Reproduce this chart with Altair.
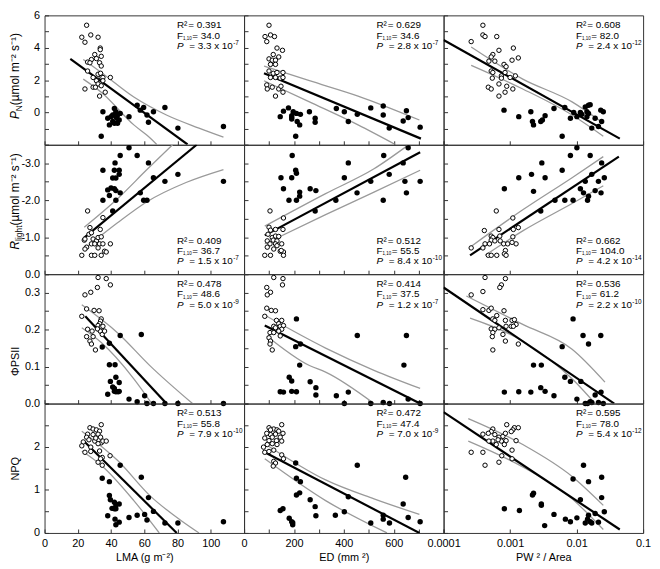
import json
import altair as alt
import pandas as pd

# ---------------- axis ticks / labels ----------------
LMA_TICKS = [0, 20, 40, 60, 80, 100, 120]
LMA_LABELS = [0, 20, 40, 60, 80, 100]
ED_TICKS = [0, 100, 200, 300, 400, 500, 600, 700, 800]
ED_LABELS = [0, 200, 400, 600]
PWA_TICKS = [0.0001, 0.001, 0.01, 0.1]
PWA_LABELS = [0.0001, 0.001, 0.01, 0.1]
PN_TICKS = [-2, -1, 0, 1, 2, 3, 4, 5, 6]
PN_LABELS = [0, 2, 4, 6]
RL_TICKS = [-3.5, -3.0, -2.5, -2.0, -1.5, -1.0, -0.5, 0.0]
RL_LABELS = [-3.0, -2.0, -1.0, 0.0]
PHI_TICKS = [0, 0.05, 0.1, 0.15, 0.2, 0.25, 0.3, 0.35]
PHI_LABELS = [0, 0.1, 0.2, 0.3]
NPQ_TICKS = [0, 0.5, 1, 1.5, 2, 2.5, 3]
NPQ_LABELS = [0, 1, 2]

# ---------------- row 1: P_N ----------------
PN_LMA_OPEN = [(25.3,5.39),(22.4,4.65),(24.3,4.34),(27.8,4.79),(32.2,4.65),(33.5,3.98),(33.5,3.88),(25.9,3.11),(28.2,3.27),(31.2,3.33),(34.1,3.47),(30.2,3.58),(27.3,3.07),(33.1,3.07),(34.1,2.87),(25.9,2.56),(29.2,2.16),(32.2,2.36),(33.7,2.42),(34.1,2.16),(31.2,1.96),(35.1,2.16),(39.6,2.16),(29.2,1.56),(24.3,1.45),(32.2,1.76),(34.1,1.65),(30.6,1.56),(33.1,1.01),(36.5,1.25),(35.1,1.96)]
PN_LMA_FILLED = [(35.1,0.04),(34.1,-1.47),(38.0,-0.36),(40.0,-0.26),(42.0,0.24),(42.9,0.04),(43.5,-0.36),(41.0,-0.56),(39.0,-0.77),(42.0,-0.67),(43.9,-0.16),(44.9,-0.47),(43.9,-0.67),(45.5,-0.06),(42.9,-0.26),(50.8,-0.26),(55.7,0.44),(57.6,0.14),(59.6,0.30),(61.6,-0.16),(62.5,-0.61),(65.5,0.04),(72.4,0.30),(80.2,-0.97),(107.6,-0.87),(41.0,-0.16),(42.4,-0.12)]
PN_LMA_LINE = [(15.5,3.31),(86.0,-1.98)]
PN_LMA_UPPER = [(23.3,3.27),(34.1,2.47),(53.7,0.95),(73.3,-0.16),(92.9,-0.97),(107.6,-1.53)]
PN_LMA_LOWER = [(23.3,2.06),(34.1,1.25),(53.7,-0.77),(63.5,-1.58),(67.5,-1.98)]
PN_LMA_STATS = ("0.391", "34.0", "3.3", "-7")

PN_ED_OPEN = [(100,5.39),(84,4.69),(106,4.79),(122,4.69),(91,4.38),(132,3.98),(154,3.84),(117,3.58),(139,3.43),(100,3.31),(113,3.23),(126,3.23),(106,2.97),(126,2.97),(100,2.56),(117,2.42),(132,2.47),(156,2.47),(106,2.16),(126,2.16),(145,2.12),(156,2.16),(91,1.70),(113,1.56),(93,1.45),(139,1.45),(148,1.62),(126,1.01),(156,1.25)]
PN_ED_FILLED = [(145,-0.26),(158,0.08),(178,0.28),(191,-0.20),(191,-0.41),(197,0.04),(210,-0.06),(226,-0.12),(213,-0.56),(223,-0.77),(207,-1.47),(262,0.04),(285,-0.36),(285,-0.61),(370,0.24),(402,0.04),(418,-0.56),(454,-0.12),(508,0.28),(558,0.40),(558,-0.16),(582,-0.97),(638,-0.53),(651,0.10),(658,-0.32),(706,-0.91),(191,-0.32)]
PN_ED_LINE = [(80,2.42),(709,-1.62)]
PN_ED_UPPER = [(80,2.87),(262,1.96),(457,1.01),(703,-0.47)]
PN_ED_LOWER = [(80,1.96),(262,0.65),(457,-0.77),(606,-1.98)]
PN_ED_STATS = ("0.629", "34.6", "2.8", "-7")

PN_PWA_OPEN = [(0.00039,5.39),(0.00039,4.79),(0.00042,4.69),(0.00063,4.69),(0.00026,4.38),(0.00068,3.84),(0.00112,3.98),(0.00055,3.58),(0.00052,3.43),(0.00059,3.17),(0.00048,3.17),(0.00133,3.37),(0.00107,3.23),(0.00081,2.97),(0.00087,2.83),(0.00052,2.56),(0.00055,2.47),(0.00084,2.47),(0.00074,2.26),(0.0012,2.26),(0.001,2.16),(0.00054,2.12),(0.00074,2.12),(0.00047,1.56),(0.00052,1.45),(0.00068,1.76),(0.00089,1.62),(0.0011,1.45),(0.00084,1.25),(0.00068,1.01)]
PN_PWA_FILLED = [(0.00081,0.14),(0.00135,-0.26),(0.00205,0.04),(0.00217,-0.56),(0.00225,-0.77),(0.00289,-0.56),(0.00306,-0.47),(0.00336,-0.20),(0.00457,0.24),(0.00607,-1.47),(0.00665,0.30),(0.00807,-0.36),(0.00905,0.0),(0.0101,-0.26),(0.0114,0.0),(0.012,-0.12),(0.0135,0.34),(0.0143,-0.26),(0.0151,0.44),(0.016,0.48),(0.0151,-0.06),(0.019,-0.36),(0.0169,-0.97),(0.0213,-0.87),(0.0238,-0.56),(0.0231,0.14),(0.0252,0.04),(0.0143,0.04)]
PN_PWA_LINE = [(0.0001,4.48),(0.0446,-1.62)]
PN_PWA_UPPER = [(0.00026,4.04),(0.00155,2.06),(0.00855,0.65),(0.0252,-0.67)]
PN_PWA_LOWER = [(0.00026,2.91),(0.00155,1.45),(0.00855,-0.16),(0.0252,-1.47)]
PN_PWA_STATS = ("0.608", "82.0", "2.4", "-12")

# ---------------- row 2: R_light ----------------
RL_LMA_OPEN = [(25.9,-1.71),(27.3,-1.26),(35.1,-1.53),(33.5,-1.21),(23.9,-0.92),(25.3,-0.73),(28.2,-0.82),(29.2,-0.95),(31.2,-0.90),(32.2,-0.99),(34.1,-1.01),(30.2,-0.82),(33.1,-0.82),(35.1,-0.82),(32.2,-0.71),(24.3,-0.68),(39.6,-0.82),(28.2,-0.51),(30.2,-0.51),(34.1,-0.51),(36.1,-0.62),(37.1,-0.60),(22.4,-0.51),(26.7,-1.08),(28.2,-1.12),(24.3,-0.95)]
RL_LMA_FILLED = [(50.8,-3.42),(45.5,-3.21),(55.7,-3.21),(42.4,-3.01),(62.5,-3.01),(35.1,-2.81),(42.0,-2.81),(44.9,-2.81),(41.0,-2.60),(42.9,-2.60),(44.9,-2.70),(38.0,-2.28),(40.0,-2.33),(42.0,-2.31),(42.9,-2.26),(39.0,-2.13),(45.5,-2.20),(35.1,-2.0),(42.9,-2.0),(57.6,-2.20),(59.6,-2.0),(61.6,-2.0),(65.5,-2.61),(72.4,-2.51),(80.2,-2.70),(107.6,-2.51),(41.0,-1.71)]
RL_LMA_LINE = [(23.9,-0.99),(91.5,-3.5)]
RL_LMA_UPPER = [(23.9,-1.27),(43.9,-2.04),(61.6,-2.83),(77.0,-3.5)]
RL_LMA_LOWER = [(23.9,-0.68),(43.9,-1.39),(61.6,-1.96),(85.1,-2.48),(107.6,-2.83)]
RL_LMA_STATS = ("0.409", "36.7", "1.5", "-7")

RL_ED_OPEN = [(104,-1.71),(158,-1.52),(100,-1.27),(106,-1.19),(126,-1.21),(156,-1.21),(96,-1.08),(113,-0.99),(126,-1.03),(139,-1.02),(93,-0.90),(117,-0.92),(132,-0.90),(104,-0.82),(126,-0.82),(151,-0.82),(93,-0.73),(119,-0.68),(145,-0.62),(158,-0.60),(83,-0.51),(106,-0.51),(158,-0.51),(149,-0.64),(132,-0.77)]
RL_ED_FILLED = [(658,-3.42),(193,-3.21),(560,-3.21),(418,-3.01),(207,-2.81),(638,-3.01),(148,-2.61),(191,-2.61),(210,-2.73),(402,-2.61),(582,-2.70),(508,-2.51),(645,-2.51),(706,-2.51),(158,-2.31),(223,-2.22),(265,-2.31),(288,-2.26),(223,-2.11),(180,-2.0),(210,-2.0),(453,-2.20),(368,-2.0),(558,-2.0),(651,-2.20),(285,-1.71)]
RL_ED_LINE = [(83,-1.05),(706,-3.30)]
RL_ED_UPPER = [(83,-1.30),(327,-2.18),(521,-2.85),(658,-3.49)]
RL_ED_LOWER = [(83,-0.82),(327,-1.61),(521,-2.22),(706,-2.81)]
RL_ED_STATS = ("0.512", "55.5", "8.4", "-10")

RL_PWA_OPEN = [(0.00062,-1.71),(0.0011,-1.52),(0.00068,-1.21),(0.00041,-1.18),(0.00133,-1.26),(0.00112,-1.21),(0.00052,-1.03),(0.00055,-0.99),(0.0007,-1.03),(0.00042,-0.82),(0.00052,-0.92),(0.00059,-0.90),(0.00071,-0.90),(0.0011,-1.01),(0.0008,-0.82),(0.00092,-0.82),(0.00123,-0.82),(0.00107,-0.86),(0.00026,-0.71),(0.00039,-0.71),(0.00085,-0.64),(0.00047,-0.51),(0.00052,-0.51),(0.00063,-0.51),(0.00082,-0.55),(0.00087,-0.51),(0.00049,-0.82)]
RL_PWA_FILLED = [(0.0101,-3.42),(0.00807,-3.21),(0.016,-3.21),(0.003,-3.01),(0.0238,-3.01),(0.00607,-2.81),(0.0021,-2.70),(0.00135,-2.61),(0.00336,-2.61),(0.0169,-2.70),(0.0135,-2.51),(0.0213,-2.51),(0.0261,-2.61),(0.00082,-2.31),(0.00225,-2.24),(0.0114,-2.31),(0.0127,-2.20),(0.019,-2.26),(0.0233,-2.20),(0.0151,-2.11),(0.0146,-2.0),(0.00473,-2.0),(0.00665,-2.0),(0.00885,-2.0),(0.00289,-1.71)]
RL_PWA_LINE = [(0.00025,-0.51),(0.0432,-3.18)]
RL_PWA_UPPER = [(0.00025,-0.73),(0.00155,-1.74),(0.00855,-2.61),(0.0252,-3.18)]
RL_PWA_LOWER = [(0.00042,-0.51),(0.00155,-1.17),(0.00855,-1.91),(0.0252,-2.39)]
RL_PWA_STATS = ("0.662", "104.0", "4.2", "-14")

# ---------------- row 3: PhiPSII ----------------
PHI_LMA_OPEN = [(32.2,0.341),(37.1,0.338),(39.6,0.321),(24.3,0.294),(27.8,0.301),(31.8,0.314),(25.3,0.256),(29.8,0.252),(32.8,0.251),(22.4,0.236),(34.1,0.229),(33.7,0.223),(33.1,0.216),(32.2,0.211),(34.1,0.207),(35.1,0.209),(33.5,0.196),(34.7,0.187),(25.9,0.201),(28.6,0.196),(25.3,0.181),(29.2,0.181),(27.3,0.169),(28.2,0.161),(30.6,0.145),(31.8,0.202),(36.1,0.196)]
PHI_LMA_FILLED = [(39.0,0.163),(45.5,0.184),(58.2,0.187),(34.7,0.153),(39.0,0.105),(42.4,0.105),(39.6,0.06),(42.9,0.071),(42.0,0.041),(44.9,0.057),(38.0,0.025),(42.0,0.033),(42.9,0.032),(44.3,0.032),(41.0,0.045),(50.8,0.012),(55.7,0.005),(60.2,0.021),(61.6,0.0),(65.5,0.0),(72.4,0.0),(80.2,0.0),(107.6,0.0),(44.9,0.033)]
PHI_LMA_LINE = [(24.5,0.236),(73.3,0.0)]
PHI_LMA_UPPER = [(22.4,0.267),(44.0,0.191),(63.5,0.102),(89.0,0.0)]
PHI_LMA_LOWER = [(22.4,0.205),(34.1,0.165),(53.7,0.067),(64.5,0.0)]
PHI_LMA_STATS = ("0.478", "48.6", "5.0", "-9")

PHI_ED_OPEN = [(119,0.341),(156,0.338),(154,0.321),(91,0.314),(106,0.301),(93,0.294),(91,0.258),(109,0.252),(126,0.251),(83,0.236),(130,0.225),(151,0.225),(139,0.216),(119,0.209),(145,0.209),(158,0.211),(151,0.201),(132,0.201),(104,0.192),(119,0.192),(139,0.196),(100,0.178),(106,0.169),(104,0.161),(113,0.145),(145,0.183),(126,0.205)]
PHI_ED_FILLED = [(210,0.229),(207,0.154),(226,0.161),(223,0.104),(454,0.184),(651,0.184),(641,0.104),(181,0.071),(191,0.061),(265,0.059),(288,0.043),(288,0.023),(145,0.032),(158,0.031),(191,0.033),(210,0.032),(370,0.021),(418,0.031),(402,0.0),(508,0.0),(558,0.003),(583,0.0),(658,0.012),(706,0.0)]
PHI_ED_LINE = [(83,0.211),(706,0.0)]
PHI_ED_UPPER = [(91,0.236),(327,0.150),(521,0.090),(706,0.041)]
PHI_ED_LOWER = [(91,0.183),(262,0.103),(327,0.085),(521,0.0)]
PHI_ED_STATS = ("0.414", "37.5", "1.2", "-7")

PHI_PWA_OPEN = [(0.00042,0.341),(0.00085,0.338),(0.00074,0.321),(0.0007,0.314),(0.00026,0.294),(0.00039,0.303),(0.00039,0.254),(0.00048,0.252),(0.00052,0.258),(0.00081,0.251),(0.00063,0.238),(0.00055,0.229),(0.00059,0.225),(0.00085,0.225),(0.00107,0.225),(0.00116,0.227),(0.00123,0.214),(0.00104,0.209),(0.00112,0.209),(0.00087,0.209),(0.00052,0.202),(0.00059,0.201),(0.00068,0.205),(0.00055,0.192),(0.00078,0.187),(0.00054,0.181),(0.00085,0.169),(0.00133,0.161),(0.00055,0.145)]
PHI_PWA_FILLED = [(0.00885,0.229),(0.0125,0.184),(0.0231,0.184),(0.0151,0.161),(0.00607,0.154),(0.00225,0.104),(0.00295,0.104),(0.00665,0.071),(0.00807,0.06),(0.0116,0.06),(0.00082,0.031),(0.00135,0.032),(0.00205,0.031),(0.00289,0.043),(0.00336,0.033),(0.00457,0.021),(0.0101,0.012),(0.0146,0.0),(0.0169,0.003),(0.019,0.023),(0.0233,0.031),(0.0252,0.0),(0.0213,0.003),(0.0135,0.0),(0.016,0.005)]
PHI_PWA_LINE = [(0.0001,0.314),(0.0368,0.0)]
PHI_PWA_UPPER = [(0.00022,0.291),(0.00155,0.214),(0.00855,0.147),(0.0267,0.058)]
PHI_PWA_LOWER = [(0.00025,0.231),(0.00155,0.169),(0.00855,0.067),(0.019,0.0)]
PHI_PWA_STATS = ("0.536", "61.2", "2.2", "-10")

# ---------------- row 4: NPQ ----------------
NPQ_LMA_OPEN = [(27.3,2.44),(29.2,2.41),(31.2,2.39),(34.1,2.51),(33.1,2.36),(32.2,2.29),(33.7,2.22),(34.1,2.09),(25.9,2.29),(25.3,2.22),(23.3,2.11),(26.7,2.16),(30.2,2.13),(32.2,2.07),(35.1,2.13),(37.1,2.13),(22.4,2.02),(27.8,1.99),(24.3,1.87),(27.8,1.89),(33.1,1.90),(34.7,1.75),(32.2,1.64),(33.7,1.72),(39.4,1.79),(34.7,1.57),(29.2,2.28),(30.8,2.20)]
NPQ_LMA_FILLED = [(34.7,1.27),(39.0,1.19),(45.5,1.57),(58.2,1.29),(62.5,0.82),(39.0,0.87),(39.6,0.77),(42.0,0.71),(42.9,0.65),(41.6,0.57),(42.0,0.56),(40.6,0.57),(44.9,0.67),(42.9,0.56),(38.0,0.40),(42.4,0.32),(42.9,0.19),(44.9,0.25),(50.8,0.36),(55.7,0.41),(60.2,0.43),(61.6,0.30),(65.5,0.50),(72.4,0.23),(80.2,0.23),(107.6,0.26)]
NPQ_LMA_LINE = [(23.6,2.13),(79.5,0.0)]
NPQ_LMA_UPPER = [(22.4,2.36),(44.0,1.68),(63.5,0.86),(83.1,0.26),(92.9,0.0)]
NPQ_LMA_LOWER = [(22.4,1.90),(34.1,1.57),(53.7,0.75),(69.0,0.0)]
NPQ_LMA_STATS = ("0.513", "55.8", "7.9", "-10")

NPQ_ED_OPEN = [(100,2.44),(119,2.41),(132,2.39),(151,2.51),(139,2.36),(126,2.29),(145,2.22),(156,2.31),(106,2.28),(91,2.31),(83,2.20),(100,2.14),(113,2.22),(130,2.14),(151,2.13),(78,1.99),(93,2.05),(113,2.07),(132,2.05),(83,1.87),(100,1.89),(119,1.92),(151,1.81),(158,1.72),(119,1.66),(126,1.62),(117,1.55),(106,2.39)]
NPQ_ED_FILLED = [(207,1.62),(454,1.57),(648,1.29),(210,1.27),(226,1.19),(210,0.88),(223,0.93),(265,0.77),(285,0.61),(288,0.40),(145,0.52),(156,0.56),(181,0.34),(191,0.26),(195,0.19),(195,0.24),(366,0.41),(402,0.49),(418,0.84),(508,0.23),(558,0.41),(558,0.32),(583,0.23),(638,0.67),(658,0.36),(706,0.26)]
NPQ_ED_LINE = [(83,1.87),(703,0.0)]
NPQ_ED_UPPER = [(83,2.07),(327,1.23),(521,0.79),(703,0.43)]
NPQ_ED_LOWER = [(83,1.72),(327,0.75),(573,0.0)]
NPQ_ED_STATS = ("0.472", "47.4", "7.0", "-9")

NPQ_PWA_OPEN = [(0.00089,2.51),(0.00116,2.44),(0.00133,2.44),(0.0011,2.39),(0.00055,2.41),(0.00052,2.35),(0.00059,2.28),(0.00047,2.31),(0.00068,2.22),(0.00078,2.24),(0.00085,2.31),(0.00087,2.14),(0.00074,2.13),(0.00055,2.13),(0.00066,2.16),(0.00048,2.13),(0.00039,2.29),(0.00123,2.14),(0.00062,2.05),(0.00082,2.05),(0.00107,1.92),(0.00075,1.79),(0.00026,1.87),(0.00039,1.87),(0.00107,1.72),(0.00068,1.64),(0.00042,1.57),(0.00104,2.35)]
NPQ_PWA_FILLED = [(0.0127,1.57),(0.00885,1.25),(0.0151,1.19),(0.0238,1.29),(0.00082,0.56),(0.00138,0.52),(0.00217,0.88),(0.00225,0.92),(0.00295,0.64),(0.00295,0.67),(0.00457,0.43),(0.00331,0.17),(0.00679,0.32),(0.00807,0.26),(0.0101,0.35),(0.0114,0.77),(0.0135,0.23),(0.0146,0.32),(0.0151,0.41),(0.016,0.26),(0.0169,0.23),(0.019,0.45),(0.0213,0.25),(0.0238,0.82),(0.0261,0.49)]
NPQ_PWA_LINE = [(0.0001,2.80),(0.0446,0.08)]
NPQ_PWA_UPPER = [(0.000235,2.65),(0.00155,2.05),(0.00855,1.31),(0.0252,0.64)]
NPQ_PWA_LOWER = [(0.000235,2.13),(0.00155,1.53),(0.00855,0.79),(0.0252,0.08)]
NPQ_PWA_STATS = ("0.595", "78.0", "5.4", "-12")

# ---------------- layout / style ----------------
FONT = "Liberation Sans"
W, H = 202, 131
INWARD = {"expr": "-4"}
ROWS = ["PN", "RL", "PHI", "NPQ"]
COLS = ["LMA", "ED", "PWA"]

XSPEC = {
    "LMA": dict(scale=alt.Scale(domain=[0, 120], nice=False, zero=False), ticks=LMA_TICKS,
                labels=LMA_LABELS, fmt="format(datum.value, 'd')", title="LMA (g m⁻²)"),
    "ED": dict(scale=alt.Scale(domain=[0, 800], nice=False, zero=False), ticks=ED_TICKS,
               labels=ED_LABELS, fmt="format(datum.value, 'd')", title="ED (mm ²)"),
    "PWA": dict(scale=alt.Scale(type="log", domain=[0.0001, 0.1], nice=False), ticks=PWA_TICKS,
                labels=PWA_LABELS, fmt="format(datum.value, '.4~f')", title="PW ² / Area"),
}
YSPEC = {
    "PN": dict(scale=alt.Scale(domain=[-2, 6], nice=False, zero=False), ticks=PN_TICKS,
               labels=PN_LABELS, fmt="format(datum.value, 'd')"),
    "RL": dict(scale=alt.Scale(domain=[-3.5, 0], nice=False, zero=False, reverse=True), ticks=RL_TICKS,
               labels=RL_LABELS, fmt="(datum.value < 0 ? '-' : '') + format(abs(datum.value), '.1f')"),
    "PHI": dict(scale=alt.Scale(domain=[0, 0.35], nice=False, zero=False), ticks=PHI_TICKS,
                labels=PHI_LABELS, fmt="format(datum.value, '.1f')"),
    "NPQ": dict(scale=alt.Scale(domain=[0, 3], nice=False, zero=False), ticks=NPQ_TICKS,
                labels=NPQ_LABELS, fmt="format(datum.value, 'd')"),
}

# y-axis titles (pieces: text, x, y, size, style), rotated 270 degrees
YTITLES = {
    "PN": [("P", -26, 105, 12, "italic"), ("N", -23, 97, 8.5, "normal"),
           (" (µmol m⁻² s⁻¹)", -26, 90.9, 12, "normal")],
    "RL": [("R", -26, 106, 12, "italic"), ("light", -23, 97.3, 8.5, "normal"),
           (" (µmol m⁻² s⁻¹)", -26, 81.7, 12, "normal")],
    "PHI": [("ΦPSII", -26, 103, 11, "normal")],
    "NPQ": [("NPQ", -26, 78, 11, "normal")],
}

ONE = pd.DataFrame({"k": [0]})


def txt(s, x, y, size=10, style="normal", angle=0):
    return alt.Chart(ONE).mark_text(
        text=s, align="left", baseline="alphabetic", font=FONT, fontSize=size,
        fontStyle=style, angle=angle, color="black"
    ).encode(x=alt.value(x), y=alt.value(y))


def make_axis(spec, show, title=False):
    kw = dict(values=spec["ticks"], tickSize=INWARD, tickColor="#333333", tickWidth=1,
              domain=False, grid=False, labels=show, labelFlush=False, labelOverlap=False)
    if show:
        kw.update(labelExpr=f"indexof({json.dumps(spec['labels'])}, datum.value) >= 0 ? {spec['fmt']} : ''",
                  labelFont=FONT, labelFontSize=11, labelColor="black", labelPadding=9)
    if title:
        kw.update(titleFont=FONT, titleFontSize=11, titleFontWeight="normal", titleColor="black",
                  titlePadding=3)
    return alt.Axis(**kw)


def pts(pairs):
    return pd.DataFrame(pairs, columns=["x", "y"])


def panel(ri, ci):
    r, c = ROWS[ri], COLS[ci]
    pre = f"{r}_{c}_"
    g = globals()
    xs, ys = XSPEC[c], YSPEC[r]
    last_row = ri == len(ROWS) - 1
    if last_row:
        X = alt.X("x:Q", scale=xs["scale"], axis=make_axis(xs, True, True), title=xs["title"])
    else:
        X = alt.X("x:Q", scale=xs["scale"], axis=make_axis(xs, False), title=None)
    Y = alt.Y("y:Q", scale=ys["scale"], axis=make_axis(ys, ci == 0), title=None)

    up = pts(g[pre + "UPPER"]).assign(side="upper")
    lo = pts(g[pre + "LOWER"]).assign(side="lower")
    ci_df = pd.concat([up, lo], ignore_index=True)

    layers = [
        alt.Chart(ci_df).mark_line(color="#9a9a9a", strokeWidth=1.3, clip=True, interpolate="monotone")
        .encode(x=X, y=Y, detail="side:N"),
        alt.Chart(pts(g[pre + "LINE"])).mark_line(color="black", strokeWidth=2.2, clip=True)
        .encode(x=X, y=Y),
        alt.Chart(pts(g[pre + "OPEN"])).mark_circle(size=20, fill="white", stroke="black",
                                                     strokeWidth=1, opacity=1)
        .encode(x=X, y=Y),
        alt.Chart(pts(g[pre + "FILLED"])).mark_circle(size=30, color="black", opacity=1)
        .encode(x=X, y=Y),
    ]

    r2, fv, mant, ex = g[pre + "STATS"]
    if r == "RL":
        yR, yF, yP = H - 31, H - 20.5, H - 10
    else:
        yR, yF, yP = 13, 23.5, 34
    x0 = 134
    layers += [
        txt("R²", x0, yR),
        txt("= " + r2, x0 + 11.5, yR),
        txt("F", x0, yF),
        txt("1,10", x0 + 6.2, yF + 1.5, size=4.5),
        txt("= " + fv, x0 + 15.5, yF),
        txt("P", x0, yP, style="italic"),
        txt(f"= {mant} x 10", x0 + 12.5, yP),
        txt(ex, x0 + 57, yP - 4, size=6.5),
    ]
    if ci == 0:
        for s, x, y, size, style in YTITLES[r]:
            layers.append(txt(s, x, y, size=size, style=style, angle=270))

    return alt.layer(*layers).properties(width=W, height=H)


panels = [panel(ri, ci) for ri in range(len(ROWS)) for ci in range(len(COLS))]

chart = (
    alt.concat(*panels, columns=3, spacing=0, bounds="flush")
    .properties(padding={"top": -3, "left": 0, "right": 0, "bottom": 0}, background="white")
    .configure_view(stroke="#333333", strokeWidth=1)
)

chart.save("out.html", embed_options={"renderer": "svg", "actions": False})
